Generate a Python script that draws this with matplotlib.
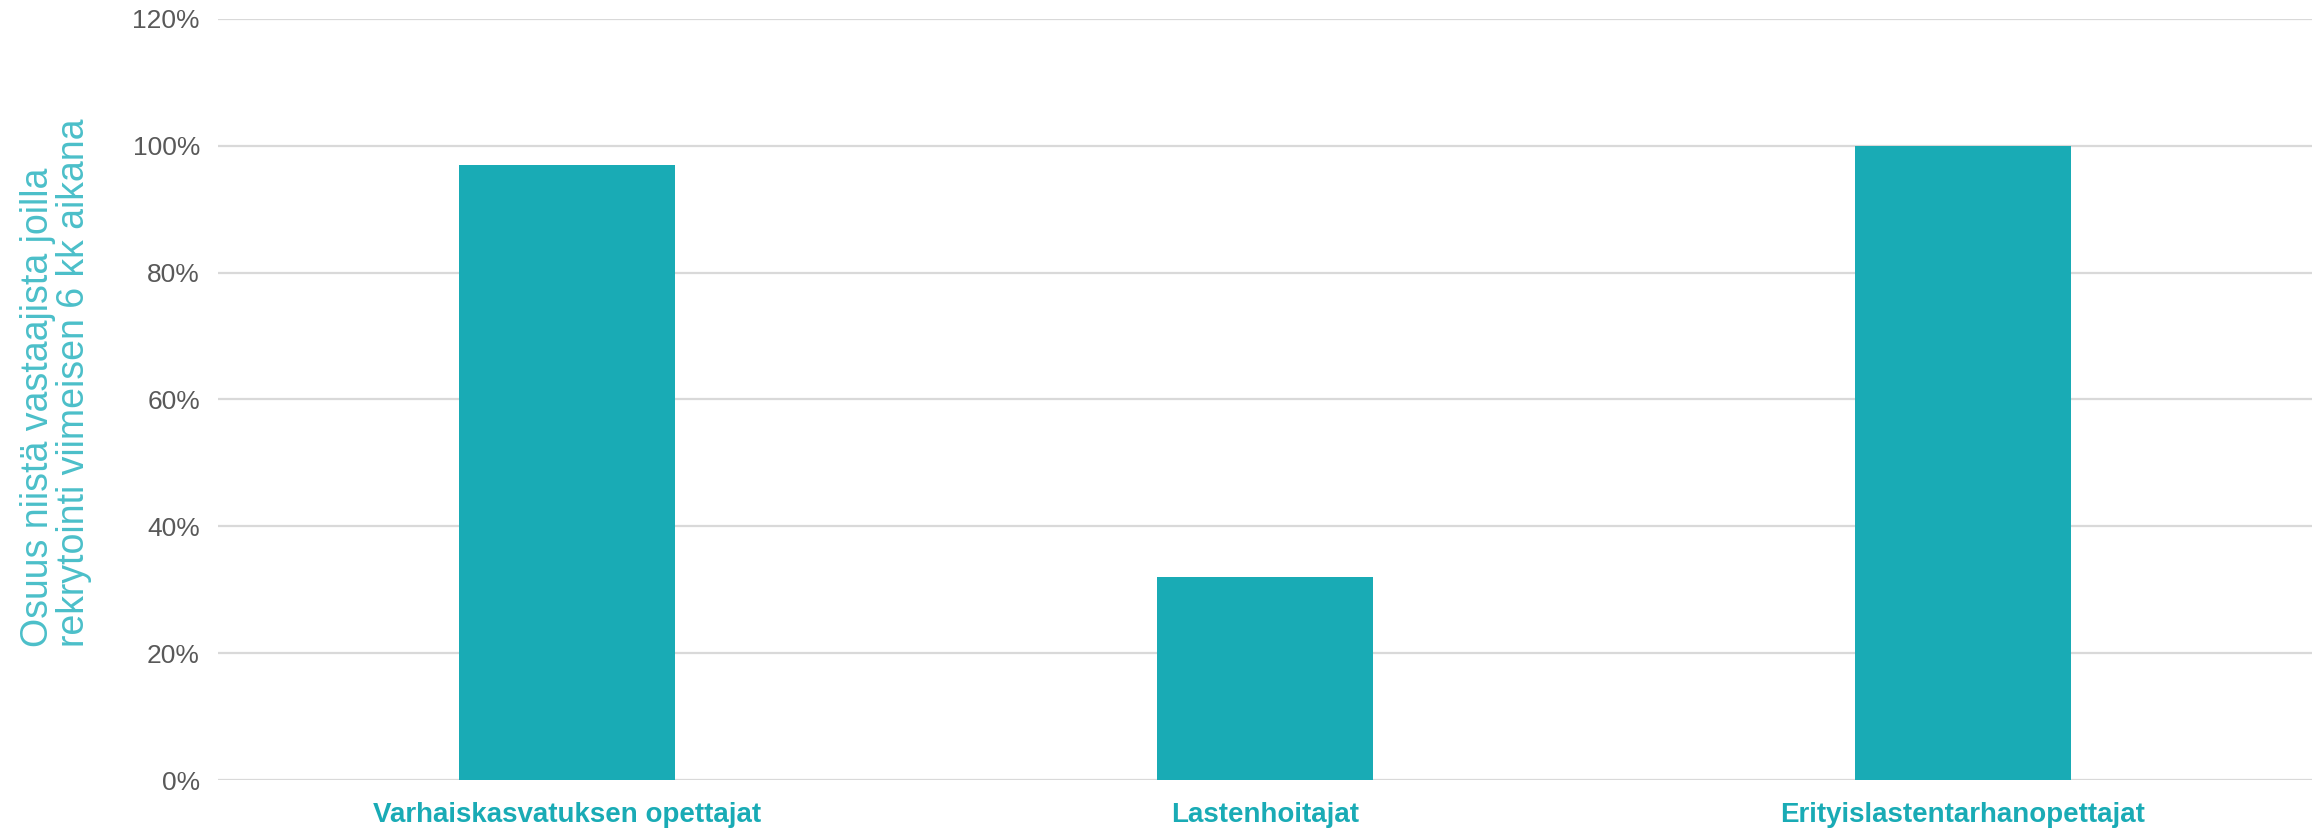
import matplotlib
matplotlib.use("Agg")
import matplotlib.pyplot as plt
from matplotlib.ticker import FuncFormatter

categories = ["Varhaiskasvatuksen opettajat", "Lastenhoitajat", "Erityislastentarhanopettajat"]
values = [0.97, 0.32, 1.00]
yticks = [0, 0.2, 0.4, 0.6, 0.8, 1.0, 1.2]
ylabel = "Osuus niistä vastaajista joilla\nrekrytointi viimeisen 6 kk aikana"

bar_color = "#19ABB5"
label_color = "#4BBFC9"
grid_color = "#D9D9D9"
tick_color = "#595959"

plt.rcParams["font.family"] = ["Liberation Sans", "DejaVu Sans"]

fig = plt.figure(figsize=(23.18, 8.36), dpi=100)
ax = fig.add_axes([218 / 2318, 1 - 780 / 836, (2312 - 218) / 2318, (780 - 19) / 836])

ax.bar(range(len(categories)), values, width=0.31, color=bar_color, zorder=3)

ax.set_xlim(-0.5, len(categories) - 0.5)
ax.set_ylim(0, 1.2)
ax.set_yticks(yticks)
ax.yaxis.set_major_formatter(FuncFormatter(lambda v, p: f"{v * 100:.0f}%"))
ax.set_xticks(range(len(categories)))
ax.set_xticklabels(categories, fontsize=20, fontweight="bold", color=bar_color)
ax.tick_params(axis="y", labelsize=19, labelcolor=tick_color, length=0, pad=13)
ax.tick_params(axis="x", length=0, pad=16)

ax.grid(axis="y", color=grid_color, linewidth=1.6, zorder=0)
for s in ax.spines.values():
    s.set_visible(False)

fig.text(0.024, 0.226, ylabel, rotation=90, ha="center", va="bottom",
         multialignment="left", fontsize=27, color=label_color, linespacing=1.0)

fig.savefig("out.png", dpi=100)
